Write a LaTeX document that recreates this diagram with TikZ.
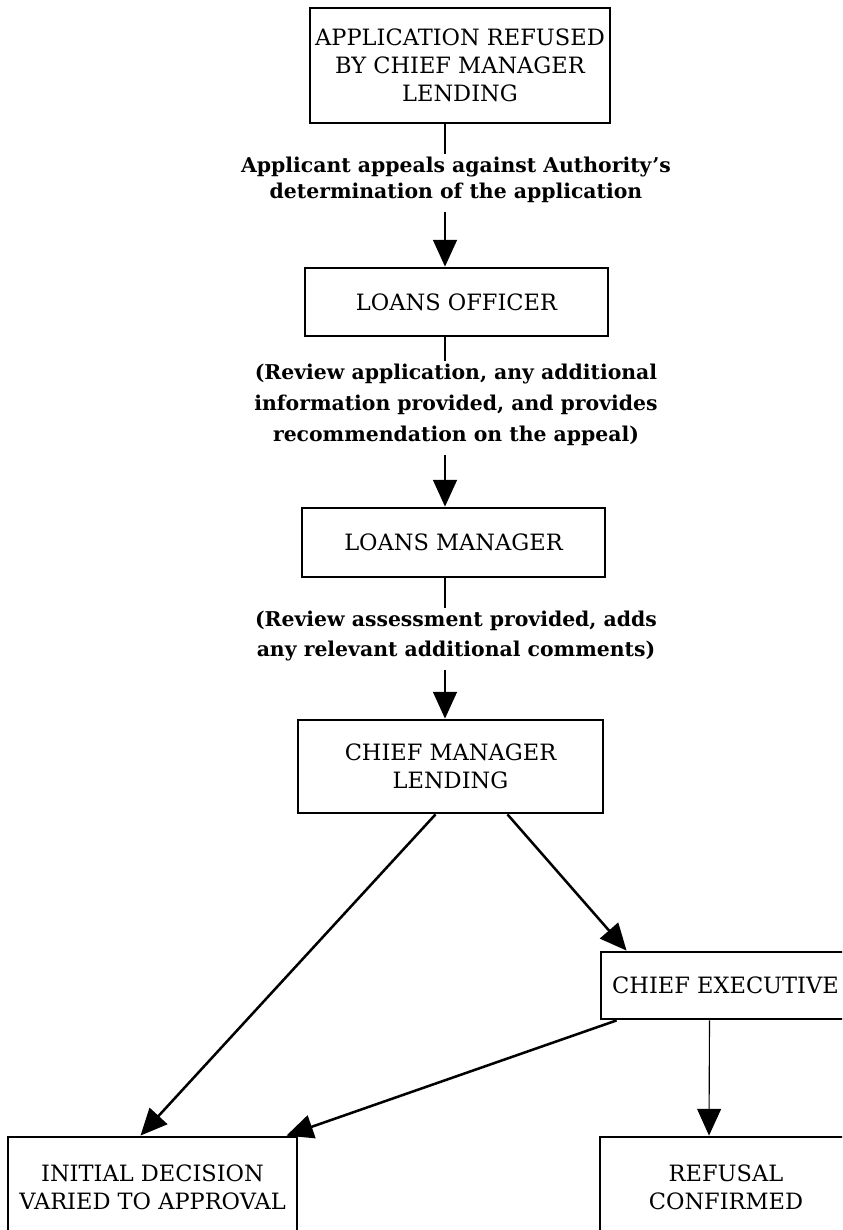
\documentclass[tikz,border=0pt]{standalone}
\usepackage{fontspec}
\setmainfont{DejaVu Serif}
\usetikzlibrary{arrows.meta,calc}

\begin{document}
\begin{tikzpicture}[
    x=0.025cm, y=-0.025cm,
    box/.style={rectangle, draw, line width=2pt, align=center, inner sep=0pt,
        font=\fontsize{16}{20}\selectfont},
    note/.style={align=center, inner sep=2pt, font=\bfseries\fontsize{14.5}{20}\selectfont},
    flow/.style={line width=1.2pt, -{Triangle[length=19pt,width=17pt]}},
    link/.style={line width=1.2pt}
]
    \useasboundingbox (0,0) rectangle (842,1230);
    \clip (0,0) rectangle (842,1230);
    \coordinate (spine) at (445,0);

    \node[box, minimum width=7.5cm, minimum height=2.875cm] (refused) at (460,65.5) {
        APPLICATION REFUSED \\
        BY CHIEF MANAGER \\
        LENDING
    };

    \node[note, font=\bfseries\fontsize{14.5}{18.5}\selectfont] (appeal) at (456,180) {
        Applicant appeals against Authority's \\
        determination of the application
    };

    \node[box, minimum width=7.575cm, minimum height=1.7cm] (officer) at (456.5,302) {LOANS OFFICER};

    \node[note, font=\bfseries\fontsize{14.5}{22}\selectfont] (review) at (456,405) {
        (Review application, any additional \\
        information provided, and provides \\
        recommendation on the appeal)
    };

    \node[box, minimum width=7.575cm, minimum height=1.725cm] (manager) at (453.5,542.5) {LOANS MANAGER};

    \node[note, font=\bfseries\fontsize{14.5}{21}\selectfont] (assess) at (456,636) {
        (Review assessment provided, adds \\
        any relevant additional comments)
    };

    \node[box, minimum width=7.625cm, minimum height=2.325cm] (chief) at (450.5,766.5) {
        CHIEF MANAGER \\
        LENDING
    };

    \node[box, minimum width=6.225cm, minimum height=1.675cm] (exec) at (725.5,985.5) {CHIEF EXECUTIVE};

    \node[box, minimum width=7.225cm, minimum height=2.525cm] (varied) at (152.5,1187.5) {
        INITIAL DECISION \\
        VARIED TO APPROVAL
    };

    \node[box, minimum width=6.3cm, minimum height=2.525cm] (confirmed) at (726,1187.5) {
        REFUSAL \\
        CONFIRMED
    };

    \draw[link] (refused.south -| spine) -- (appeal.north -| spine);
    \draw[flow] ($(appeal.south -| spine)+(0,6)$) -- (officer.north -| spine);
    \draw[link] (officer.south -| spine) -- (review.north -| spine);
    \draw[flow] ($(review.south -| spine)+(0,6)$) -- (manager.north -| spine);
    \draw[link] (manager.south -| spine) -- (assess.north -| spine);
    \draw[flow] ($(assess.south -| spine)+(0,6)$) -- (chief.north -| spine);

    \draw[flow, line width=1.8pt] ($(chief.south)+(-15,0)$) -- ($(varied.north)+(-12,0)$);
    \draw[flow, line width=1.8pt] ($(chief.south)+(57,0)$) -- ($(exec.north west)+(27,0)$);
    \draw[flow, line width=1.8pt] ($(exec.south west)+(17,0)$) -- ($(varied.north east)+(-12,0)$);
    \draw[flow, line width=0.8pt] ($(exec.south)+(-16,0)$) -- ($(confirmed.north)+(-17,0)$);
\end{tikzpicture}
\end{document}
